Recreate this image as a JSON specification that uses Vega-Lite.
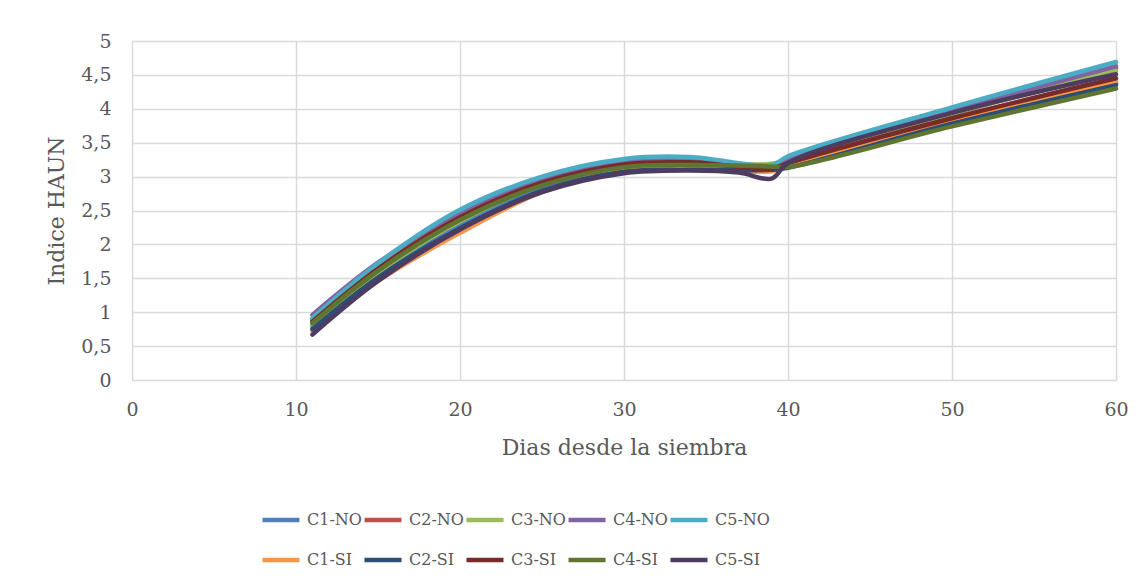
{
  "$schema": "https://vega.github.io/schema/vega-lite/v6.json",
  "autosize": "none",
  "width": 984,
  "height": 339,
  "padding": {"left": 132, "top": 41, "right": 30, "bottom": 207},
  "background": "white",
  "config": {
    "font": "DejaVu Serif",
    "view": {"stroke": null},
    "axis": {"labelColor": "#595959", "titleColor": "#595959", "gridColor": "#D9D9D9", "gridWidth": 1.5, "domain": false, "ticks": false, "labelFont": "DejaVu Serif", "titleFont": "DejaVu Serif", "titleFontWeight": "normal", "labelFlush": false}
  },
  "data": {
    "values": [
      {"serie": "C1-NO", "dia": 11, "haun": 0.79}, {"serie": "C1-NO", "dia": 15, "haun": 1.56}, {"serie": "C1-NO", "dia": 20, "haun": 2.30}, {"serie": "C1-NO", "dia": 25, "haun": 2.84}, {"serie": "C1-NO", "dia": 30, "haun": 3.12}, {"serie": "C1-NO", "dia": 34, "haun": 3.15}, {"serie": "C1-NO", "dia": 39, "haun": 3.11}, {"serie": "C1-NO", "dia": 40, "haun": 3.16}, {"serie": "C1-NO", "dia": 50, "haun": 3.80}, {"serie": "C1-NO", "dia": 60, "haun": 4.38},
      {"serie": "C2-NO", "dia": 11, "haun": 0.88}, {"serie": "C2-NO", "dia": 15, "haun": 1.67}, {"serie": "C2-NO", "dia": 20, "haun": 2.43}, {"serie": "C2-NO", "dia": 25, "haun": 2.94}, {"serie": "C2-NO", "dia": 30, "haun": 3.20}, {"serie": "C2-NO", "dia": 34, "haun": 3.23}, {"serie": "C2-NO", "dia": 39, "haun": 3.14}, {"serie": "C2-NO", "dia": 40, "haun": 3.20}, {"serie": "C2-NO", "dia": 50, "haun": 3.92}, {"serie": "C2-NO", "dia": 60, "haun": 4.60},
      {"serie": "C3-NO", "dia": 11, "haun": 0.82}, {"serie": "C3-NO", "dia": 15, "haun": 1.59}, {"serie": "C3-NO", "dia": 20, "haun": 2.34}, {"serie": "C3-NO", "dia": 25, "haun": 2.88}, {"serie": "C3-NO", "dia": 30, "haun": 3.16}, {"serie": "C3-NO", "dia": 34, "haun": 3.19}, {"serie": "C3-NO", "dia": 39, "haun": 3.19}, {"serie": "C3-NO", "dia": 40, "haun": 3.26}, {"serie": "C3-NO", "dia": 50, "haun": 3.93}, {"serie": "C3-NO", "dia": 60, "haun": 4.56},
      {"serie": "C4-NO", "dia": 11, "haun": 0.96}, {"serie": "C4-NO", "dia": 15, "haun": 1.73}, {"serie": "C4-NO", "dia": 20, "haun": 2.47}, {"serie": "C4-NO", "dia": 25, "haun": 2.97}, {"serie": "C4-NO", "dia": 30, "haun": 3.23}, {"serie": "C4-NO", "dia": 34, "haun": 3.26}, {"serie": "C4-NO", "dia": 39, "haun": 3.16}, {"serie": "C4-NO", "dia": 40, "haun": 3.25}, {"serie": "C4-NO", "dia": 50, "haun": 3.97}, {"serie": "C4-NO", "dia": 60, "haun": 4.63},
      {"serie": "C5-NO", "dia": 11, "haun": 0.91}, {"serie": "C5-NO", "dia": 15, "haun": 1.72}, {"serie": "C5-NO", "dia": 20, "haun": 2.51}, {"serie": "C5-NO", "dia": 25, "haun": 3.00}, {"serie": "C5-NO", "dia": 30, "haun": 3.26}, {"serie": "C5-NO", "dia": 34, "haun": 3.29}, {"serie": "C5-NO", "dia": 39, "haun": 3.17}, {"serie": "C5-NO", "dia": 40, "haun": 3.30}, {"serie": "C5-NO", "dia": 50, "haun": 4.02}, {"serie": "C5-NO", "dia": 60, "haun": 4.69},
      {"serie": "C1-SI", "dia": 11, "haun": 0.72}, {"serie": "C1-SI", "dia": 15, "haun": 1.46}, {"serie": "C1-SI", "dia": 20, "haun": 2.17}, {"serie": "C1-SI", "dia": 25, "haun": 2.77}, {"serie": "C1-SI", "dia": 30, "haun": 3.09}, {"serie": "C1-SI", "dia": 34, "haun": 3.12}, {"serie": "C1-SI", "dia": 39, "haun": 3.08}, {"serie": "C1-SI", "dia": 40, "haun": 3.17}, {"serie": "C1-SI", "dia": 50, "haun": 3.83}, {"serie": "C1-SI", "dia": 60, "haun": 4.41},
      {"serie": "C2-SI", "dia": 11, "haun": 0.75}, {"serie": "C2-SI", "dia": 15, "haun": 1.51}, {"serie": "C2-SI", "dia": 20, "haun": 2.24}, {"serie": "C2-SI", "dia": 25, "haun": 2.79}, {"serie": "C2-SI", "dia": 30, "haun": 3.07}, {"serie": "C2-SI", "dia": 34, "haun": 3.10}, {"serie": "C2-SI", "dia": 39, "haun": 3.10}, {"serie": "C2-SI", "dia": 40, "haun": 3.13}, {"serie": "C2-SI", "dia": 50, "haun": 3.78}, {"serie": "C2-SI", "dia": 60, "haun": 4.35},
      {"serie": "C3-SI", "dia": 11, "haun": 0.86}, {"serie": "C3-SI", "dia": 15, "haun": 1.64}, {"serie": "C3-SI", "dia": 20, "haun": 2.40}, {"serie": "C3-SI", "dia": 25, "haun": 2.91}, {"serie": "C3-SI", "dia": 30, "haun": 3.18}, {"serie": "C3-SI", "dia": 34, "haun": 3.21}, {"serie": "C3-SI", "dia": 39, "haun": 3.12}, {"serie": "C3-SI", "dia": 40, "haun": 3.20}, {"serie": "C3-SI", "dia": 50, "haun": 3.86}, {"serie": "C3-SI", "dia": 60, "haun": 4.45},
      {"serie": "C4-SI", "dia": 11, "haun": 0.84}, {"serie": "C4-SI", "dia": 15, "haun": 1.61}, {"serie": "C4-SI", "dia": 20, "haun": 2.36}, {"serie": "C4-SI", "dia": 25, "haun": 2.87}, {"serie": "C4-SI", "dia": 30, "haun": 3.14}, {"serie": "C4-SI", "dia": 34, "haun": 3.17}, {"serie": "C4-SI", "dia": 39, "haun": 3.15}, {"serie": "C4-SI", "dia": 40, "haun": 3.14}, {"serie": "C4-SI", "dia": 50, "haun": 3.74}, {"serie": "C4-SI", "dia": 60, "haun": 4.30},
      {"serie": "C5-SI", "dia": 11, "haun": 0.67}, {"serie": "C5-SI", "dia": 15, "haun": 1.46}, {"serie": "C5-SI", "dia": 20, "haun": 2.22}, {"serie": "C5-SI", "dia": 25, "haun": 2.77}, {"serie": "C5-SI", "dia": 30, "haun": 3.05}, {"serie": "C5-SI", "dia": 34, "haun": 3.09}, {"serie": "C5-SI", "dia": 37, "haun": 3.06}, {"serie": "C5-SI", "dia": 39, "haun": 2.97}, {"serie": "C5-SI", "dia": 40, "haun": 3.20}, {"serie": "C5-SI", "dia": 50, "haun": 3.94}, {"serie": "C5-SI", "dia": 60, "haun": 4.51}
    ]
  },
  "mark": {"type": "line", "interpolate": "catmull-rom", "strokeWidth": 4.5, "strokeCap": "round"},
  "encoding": {
    "x": {
      "field": "dia", "type": "quantitative",
      "scale": {"domain": [0, 60], "nice": false},
      "axis": {"values": [0, 10, 20, 30, 40, 50, 60], "title": "Dias desde la siembra", "labelFontSize": 19, "titleFontSize": 22, "labelPadding": 20, "titlePadding": 18}
    },
    "y": {
      "field": "haun", "type": "quantitative",
      "scale": {"domain": [0, 5], "nice": false},
      "axis": {"values": [0, 0.5, 1, 1.5, 2, 2.5, 3, 3.5, 4, 4.5, 5], "labelExpr": "replace(format(datum.value, '~g'), '.', ',')", "title": "Indice HAUN", "labelFontSize": 19, "titleFontSize": 22, "labelPadding": 21, "titlePadding": 12}
    },
    "color": {
      "field": "serie", "type": "nominal",
      "scale": {
        "domain": ["C1-NO", "C2-NO", "C3-NO", "C4-NO", "C5-NO", "C1-SI", "C2-SI", "C3-SI", "C4-SI", "C5-SI"],
        "range": ["#4F81BD", "#C0504D", "#9BBB59", "#8064A2", "#4BACC6", "#F79646", "#2C4D75", "#772C2A", "#5F7530", "#4D3B62"]
      },
      "legend": {
        "orient": "none", "legendX": 128, "legendY": 458, "direction": "horizontal", "columns": 5,
        "title": null, "symbolType": "stroke", "symbolSize": 1369, "symbolStrokeWidth": 4.5,
        "labelFontSize": 16, "labelColor": "#595959", "labelFont": "DejaVu Serif", "labelOffset": 5,
        "columnPadding": -21, "rowPadding": 10, "gridAlign": "all"
      }
    }
  }
}
